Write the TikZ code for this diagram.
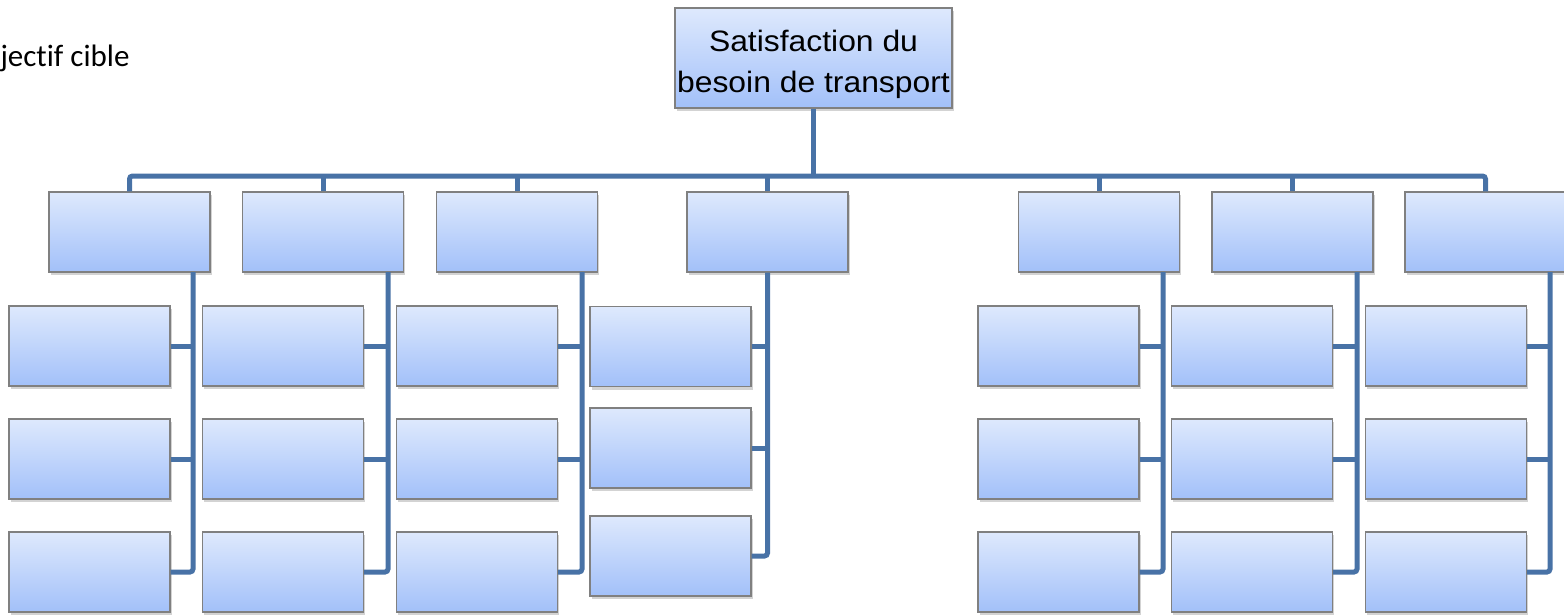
\documentclass[tikz,border=0pt]{standalone}
\usepackage{tikz}
\usepackage{xcolor}
\usepackage{fontspec}
\setmainfont{Liberation Sans}
\newfontfamily\rootfont[FakeStretch=1.08]{Liberation Sans}
\newfontfamily\notefont[Ligatures=NoCommon]{Carlito}
\usetikzlibrary{shadows}

\definecolor{linkblue}{RGB}{72,114,166}
\definecolor{boxtop}{RGB}{222,233,253}
\definecolor{boxbottom}{RGB}{162,192,249}
\definecolor{boxline}{RGB}{128,128,128}

\begin{document}
\begin{tikzpicture}[
  x=1pt, y=-1pt,
  link/.style = {draw=linkblue, line width=5pt, rounded corners=3pt},
  box/.style = {draw=boxline, line width=1.2pt, top color=boxtop, bottom color=boxbottom,
    minimum width=161pt, minimum height=80pt, inner sep=0pt,
    drop shadow={opacity=0.35, shadow xshift=1.5pt, shadow yshift=-3pt}},
  rootbox/.style = {box, minimum width=277pt, minimum height=100pt, align=center,
    font=\rootfont\fontsize{29.5}{41}\selectfont}
]
\useasboundingbox (0,0) rectangle (1564,614);

\node[anchor=base west, font=\notefont\fontsize{31}{36}\selectfont] (note) at (-3,66) {jectif cible};

\node[rootbox] (root) at (813.5,58) {\rule{0pt}{34pt}Satisfaction du\\besoin de transport};

% first level
\foreach \i/\x in {1/129.5, 2/323, 3/517, 4/767.5, 5/1099, 6/1292.5, 7/1485.5}
  \node[box] (L\i) at (\x,232) {};

\coordinate (bus) at (813.5,176);
\draw[link] (L1.north) |- (bus) -| (L7.north);
\draw[link] (root.south) -- (bus);
\foreach \i in {2,...,6}
  \draw[link] (L\i.north) -- (L\i.north |- bus);

% second level, three boxes under each
\foreach \c/\cx/\vx in {1/89.5/193, 2/283/388, 3/477/582, 5/1058.5/1163, 6/1252/1357, 7/1446/1550} {
  \coordinate (v\c) at (\vx,272);
  \foreach \r/\cy in {1/346, 2/459, 3/572}
    \node[box] (C\c\r) at (\cx,\cy) {};
  \draw[link] (v\c) |- (C\c3.east);
  \foreach \r in {1,2}
    \draw[link] (C\c\r.east) -- (C\c\r.east -| v\c);
}

% fourth column is spaced apart
\foreach \r/\cy in {1/346.5, 2/448, 3/556}
  \node[box] (C4\r) at (670.5,\cy) {};
\draw[link] (L4.south) |- (C43.east);
\foreach \r in {1,2}
  \draw[link] (C4\r.east) -- (C4\r.east -| L4.south);

\end{tikzpicture}
\end{document}
